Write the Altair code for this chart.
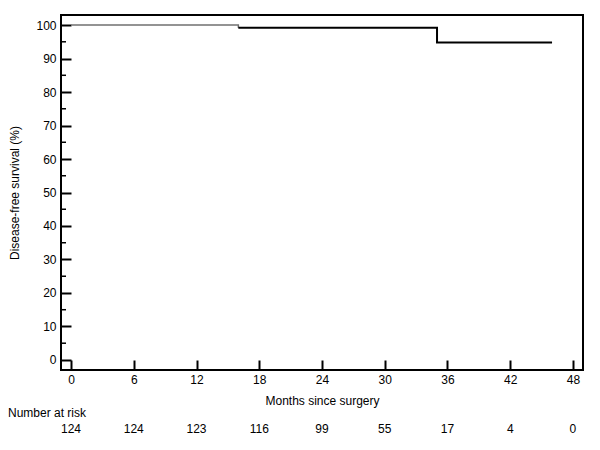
import altair as alt
import pandas as pd

# Kaplan-Meier step data
months = [0, 16, 35, 46]
survival = [100, 99.2, 94.8, 94.8]

# number at risk
risk_months = [0, 6, 12, 18, 24, 30, 36, 42, 48]
risk_counts = [124, 124, 123, 116, 99, 55, 17, 4, 0]

minor_y = [5, 15, 25, 35, 45, 55, 65, 75, 85, 95]

FONT = "Liberation Sans"
FS = 12

km = pd.DataFrame({"month": months, "surv": survival})
first = km.iloc[:2]
rest = km.iloc[1:]
risk = pd.DataFrame({"month": risk_months, "n": [str(v) for v in risk_counts]})
minor = pd.DataFrame({"surv": minor_y})

xscale = alt.Scale(domain=[-0.96, 48.96], nice=False, zero=False)
yscale = alt.Scale(domain=[-3, 103], nice=False, zero=False)

xaxis = alt.Axis(values=risk_months, title="Months since surgery", offset=-10,
                 domain=False, tickSize=10, tickWidth=2, tickColor="black",
                 labelPadding=4, grid=False, labelFont=FONT, titleFont=FONT,
                 labelFontSize=FS, titleFontSize=FS, titleFontWeight="normal",
                 titlePadding=10, labelColor="black", titleColor="black",
                 labelOverlap=False)
yaxis = alt.Axis(values=list(range(0, 101, 10)), title="Disease-free survival (%)",
                 offset=-10, domain=False, tickSize=10, tickWidth=2, tickColor="black",
                 labelPadding=5, grid=False, labelFont=FONT, titleFont=FONT,
                 labelFontSize=FS, titleFontSize=FS, titleFontWeight="normal",
                 titlePadding=14, labelColor="black", titleColor="black",
                 labelOverlap=False)

line1 = alt.Chart(first).mark_line(interpolate="step-after", color="#707070",
                                   strokeWidth=1.5).encode(
    x=alt.X("month:Q", scale=xscale, axis=xaxis),
    y=alt.Y("surv:Q", scale=yscale, axis=yaxis),
)
line2 = alt.Chart(rest).mark_line(interpolate="step-after", color="black",
                                  strokeWidth=2).encode(
    x=alt.X("month:Q", scale=xscale, axis=xaxis),
    y=alt.Y("surv:Q", scale=yscale, axis=yaxis),
)

minor_ticks = alt.Chart(minor).mark_rule(color="black", strokeWidth=1.5).encode(
    y=alt.Y("surv:Q", scale=yscale, axis=yaxis),
    x=alt.value(0),
    x2=alt.value(5),
)

risk_text = alt.Chart(risk).mark_text(font=FONT, fontSize=FS, align="center",
                                      baseline="middle", color="black").encode(
    x=alt.X("month:Q", scale=xscale, axis=xaxis),
    y=alt.value(414),
    text="n:N",
)

label = alt.Chart(pd.DataFrame({"t": ["Number at risk"]})).mark_text(
    font=FONT, fontSize=FS, align="left", baseline="middle", color="black").encode(
    x=alt.value(-53),
    y=alt.value(398),
    text="t:N",
)

chart = alt.layer(line1, minor_ticks, line2, risk_text, label).properties(
    width=522, height=355,
    autosize=alt.AutoSizeParams(type="none"),
    padding={"left": 53, "top": 7, "right": 9, "bottom": 72},
).configure_view(stroke="black", strokeWidth=2).configure_axis(labelOverlap=False)

chart.save("out.html", embed_options={"renderer": "svg", "actions": False})
